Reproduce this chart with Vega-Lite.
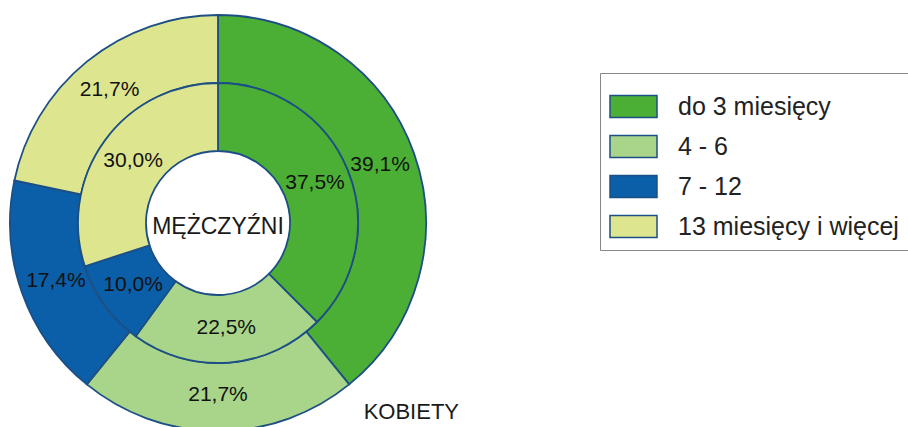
{
  "$schema": "https://vega.github.io/schema/vega-lite/v6.json",
  "width": 436,
  "height": 427,
  "autosize": {"type": "none"},
  "padding": {"left": 0, "top": 0, "right": 472, "bottom": 0},
  "background": "white",
  "config": {
    "view": {"stroke": null},
    "font": "Liberation Sans",
    "locale": {"number": {"decimal": ",", "thousands": " ", "grouping": [3], "currency": ["", " zł"]}}
  },
  "title": {
    "text": "KOBIETY",
    "orient": "bottom",
    "anchor": "end",
    "frame": "group",
    "offset": -33,
    "dx": 23,
    "fontSize": 22,
    "fontWeight": "normal",
    "font": "Liberation Sans",
    "color": "#1a1a1a"
  },
  "data": {
    "values": [
      {"ring": "KOBIETY", "n": 1, "okres": "do 3 miesięcy", "share": 0.391},
      {"ring": "KOBIETY", "n": 2, "okres": "4 - 6", "share": 0.217},
      {"ring": "KOBIETY", "n": 3, "okres": "7 - 12", "share": 0.174},
      {"ring": "KOBIETY", "n": 4, "okres": "13 miesięcy i więcej", "share": 0.217},
      {"ring": "MĘŻCZYŹNI", "n": 1, "okres": "do 3 miesięcy", "share": 0.375},
      {"ring": "MĘŻCZYŹNI", "n": 2, "okres": "4 - 6", "share": 0.225},
      {"ring": "MĘŻCZYŹNI", "n": 3, "okres": "7 - 12", "share": 0.1},
      {"ring": "MĘŻCZYŹNI", "n": 4, "okres": "13 miesięcy i więcej", "share": 0.3}
    ]
  },
  "resolve": {"scale": {"theta": "independent"}},
  "layer": [
    {
      "transform": [{"filter": "datum.ring == 'KOBIETY'"}],
      "mark": {"type": "arc", "radius": 208, "radius2": 140, "stroke": "#1d4f85", "strokeWidth": 1.8, "yOffset": 9.5},
      "encoding": {
        "theta": {"field": "share", "type": "quantitative", "stack": true},
        "order": {"field": "n", "type": "quantitative"},
        "color": {
          "field": "okres",
          "type": "nominal",
          "scale": {
            "domain": ["do 3 miesięcy", "4 - 6", "7 - 12", "13 miesięcy i więcej"],
            "range": ["#4caf35", "#a9d58b", "#0b5ea8", "#dde68f"]
          },
          "legend": {
            "orient": "none",
            "legendX": 600,
            "legendY": 73,
            "title": null,
            "symbolType": "M-1,-0.468L1,-0.468L1,0.468L-1,0.468Z",
            "symbolSize": 2209,
            "symbolStrokeColor": "#1d4f85",
            "symbolStrokeWidth": 1.5,
            "symbolOpacity": 1,
            "labelFontSize": 25,
            "labelFont": "Liberation Sans",
            "labelColor": "#222222",
            "labelOffset": 20,
            "labelLimit": 400,
            "rowPadding": 1,
            "padding": 9,
            "strokeColor": "#888888",
            "fillColor": "white"
          }
        }
      }
    },
    {
      "transform": [{"filter": "datum.ring == 'MĘŻCZYŹNI'"}],
      "mark": {"type": "arc", "radius": 140, "radius2": 72, "stroke": "#1d4f85", "strokeWidth": 1.8, "yOffset": 9.5},
      "encoding": {
        "theta": {"field": "share", "type": "quantitative", "stack": true},
        "order": {"field": "n", "type": "quantitative"},
        "color": {"field": "okres", "type": "nominal"}
      }
    },
    {
      "transform": [{"filter": "datum.ring == 'KOBIETY'"}],
      "mark": {"type": "text", "radius": 172, "fontSize": 21, "color": "#111111", "yOffset": 9.5},
      "encoding": {
        "theta": {"field": "share", "type": "quantitative", "stack": true},
        "order": {"field": "n", "type": "quantitative"},
        "text": {"field": "share", "type": "quantitative", "format": ".1%"}
      }
    },
    {
      "transform": [{"filter": "datum.ring == 'MĘŻCZYŹNI'"}],
      "mark": {"type": "text", "radius": 105, "fontSize": 21, "color": "#111111", "yOffset": 9.5},
      "encoding": {
        "theta": {"field": "share", "type": "quantitative", "stack": true},
        "order": {"field": "n", "type": "quantitative"},
        "text": {"field": "share", "type": "quantitative", "format": ".1%"}
      }
    },
    {
      "data": {"values": [{"label": "MĘŻCZYŹNI"}]},
      "mark": {"type": "text", "fontSize": 23, "color": "#1a1a1a", "yOffset": 13},
      "encoding": {"text": {"field": "label", "type": "nominal"}}
    }
  ]
}
